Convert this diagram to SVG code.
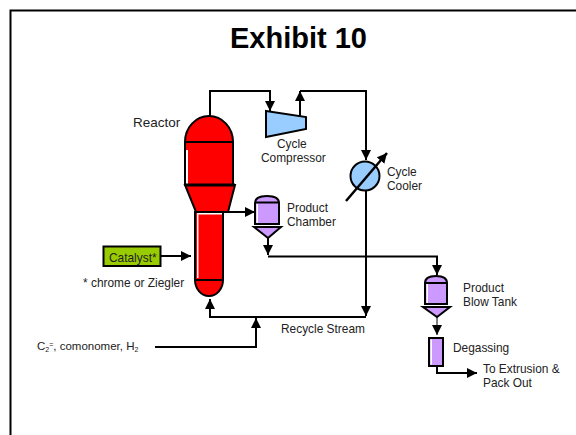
<svg xmlns="http://www.w3.org/2000/svg" width="576" height="435" viewBox="0 0 576 435">
<style>
text{font-family:"Liberation Sans",Arial,sans-serif;fill:#222;font-size:11.900px}
.t{font-size:29px;font-weight:bold;fill:#000;text-anchor:middle}
.s{fill:none;stroke:#000;stroke-width:2}
.n{stroke:#000;stroke-width:2}
.r{fill:#f00}.p{fill:#c9f}.b{fill:#9cf}
.h{fill:#fff;stroke:none}
</style>
<defs><marker id="a" markerUnits="userSpaceOnUse" markerWidth="11" markerHeight="11" refX="10" refY="5" orient="auto"><path d="M0 0L10 5L0 10Z" fill="#000"/></marker></defs>
<rect width="576" height="435" fill="#fff"/>
<path d="M10.500 435V10.500H576" fill="none" stroke="#000" stroke-width="2"/>
<text class="t" x="298.500" y="48">Exhibit 10</text>
<g id="connectors">
<path class="s" d="M210 116V91H270V111" marker-end="url(#a)"/>
<path class="s" d="M300 116V91" marker-end="url(#a)"/>
<path class="s" d="M300 91H366V160" marker-end="url(#a)"/>
<path class="s" d="M366 190V316" marker-end="url(#a)"/>
<path class="s" d="M366 317H210V299" marker-end="url(#a)"/>
<path class="s" d="M155 347H256V318" marker-end="url(#a)"/>
<path class="s" d="M161 256H191" marker-end="url(#a)"/>
<path class="s" d="M228 212H255" marker-end="url(#a)"/>
<path class="s" d="M268 238V255" marker-end="url(#a)"/>
<path class="s" d="M268 256.500H437V275" marker-end="url(#a)"/>
<path class="s" style="stroke-width:1" d="M437 317V335" marker-end="url(#a)"/>
<path class="s" d="M437 366V373H477" marker-end="url(#a)"/>
</g>
<g id="reactor">
<path class="r n" d="M185 185V142A24 26 0 0 1 233 142V185Z"/>
<path class="h" d="M186 150h2v34h-2z"/>
<path class="s" d="M185 142H233"/>
<path class="r n" d="M185 185H235L228 212H196Z"/>
<path class="s" style="stroke-width:3" d="M185 185H235"/>
<path class="r n" d="M196 212H223V280A14 16 0 0 1 195 280V212Z"/>
<path class="h" d="M197 213h25v1.500h-25zM197 214h1.500v64h-1.500z"/>
<path class="s" d="M195 280H223"/>
<text style="font-size:13.500px" x="133" y="127">Reactor</text>
</g>
<g id="compressor">
<path class="b n" d="M266 111L306 117V129L266 137Z"/>
<text x="277" y="148">Cycle</text>
<text x="261" y="162">Compressor</text>
</g>
<g id="cooler">
<circle class="b n" cx="365" cy="176" r="14.500"/>
<path class="s" style="stroke-width:2.500" d="M346 201L387 153" marker-end="url(#a)"/>
<text x="387" y="176">Cycle</text>
<text x="387" y="190">Cooler</text>
</g>
<g id="chamber">
<path class="p n" d="M255 224V203Q255 196 267 196Q279 196 279 203V224Z"/>
<path class="h" d="M256.500 204h1.500v19h-1.500z"/>
<path class="s" d="M255 202.500H279M254 224H280"/>
<path class="p n" d="M254 227H281L268 238Z"/>
<text x="287" y="212">Product</text>
<text x="287" y="226">Chamber</text>
</g>
<g id="catalyst">
<rect x="103.500" y="246.500" width="57" height="19.500" fill="#9c0" stroke="#000" stroke-width="2"/>
<text x="109" y="262">Catalyst*</text>
<text x="83" y="287">* chrome or Ziegler</text>
</g>
<g id="feed"><text x="37" y="350" style="font-size:11.500px">C<tspan font-size="7" dy="2">2</tspan><tspan font-size="7" dy="-5">=</tspan><tspan dy="3">, comonomer, H</tspan><tspan font-size="7" dy="2">2</tspan></text></g>
<text id="recycle" x="281" y="333">Recycle Stream</text>
<g id="blowtank">
<path class="p n" d="M425 304V283Q425 276 436 276Q447 276 447 283V304Z"/>
<path class="h" d="M426.500 284h1.500v19h-1.500z"/>
<path class="s" d="M425 283H447M424 304H448"/>
<path class="p n" d="M423 307H450L437 317Z"/>
<text x="463" y="292">Product</text>
<text x="463" y="306">Blow Tank</text>
</g>
<g id="degassing">
<rect class="p n" x="429" y="338" width="14" height="28"/>
<path class="h" d="M430.500 339.500h1.500v25h-1.500z"/>
<text x="453" y="352">Degassing</text>
</g>
<text x="483" y="373">To Extrusion &amp;</text>
<text x="483" y="387">Pack Out</text>
</svg>
